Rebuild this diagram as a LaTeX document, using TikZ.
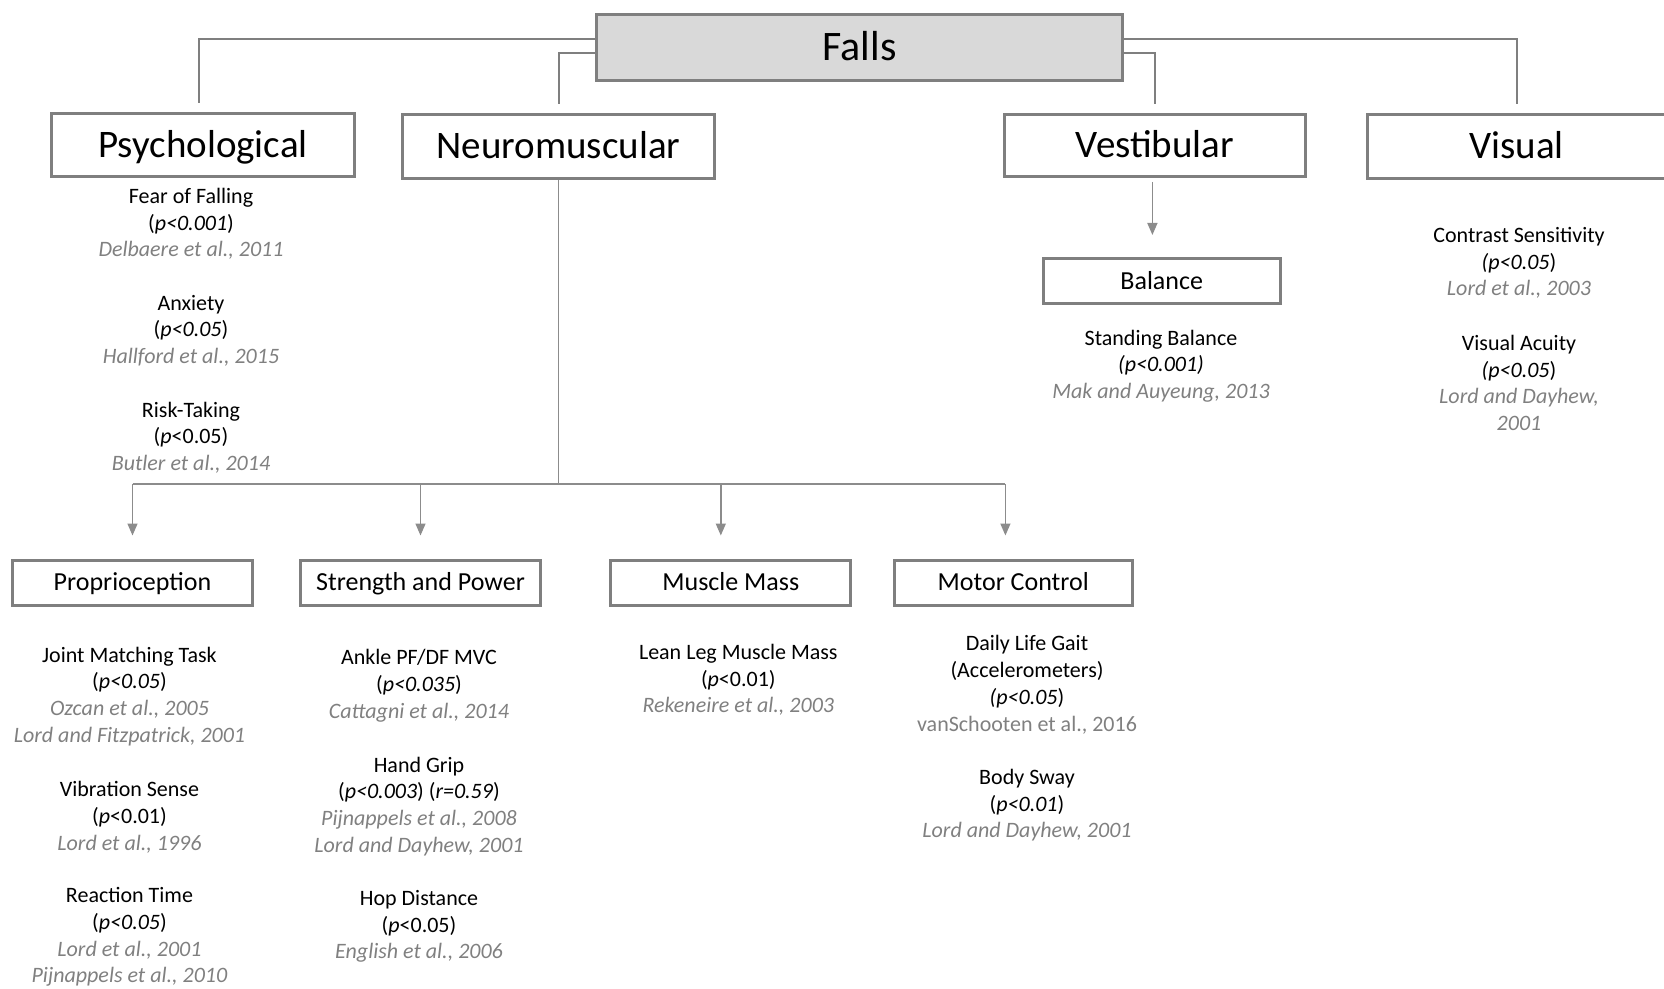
\documentclass[tikz,border=0pt]{standalone}
\usepackage{fontspec}
\setmainfont{Carlito}
\usetikzlibrary{arrows.meta}

\definecolor{boxgray}{RGB}{127,127,127}
\definecolor{fallsgray}{RGB}{217,217,217}
\definecolor{linegray}{RGB}{127,127,127}
\definecolor{thingray}{RGB}{140,140,140}
\definecolor{citegray}{RGB}{128,128,128}
\newcommand{\srcref}[1]{\textcolor{citegray}{\textit{#1}}}

\tikzset{
  mainbox/.style={draw=boxgray, line width=1.5pt, fill=white, inner sep=0pt,
    text height=12.5pt, text depth=0pt,
    minimum height=32pt, font=\fontsize{19.5}{23}\selectfont},
  subbox/.style={draw=boxgray, line width=1.5pt, inner sep=0pt,
    text height=8.4pt, text depth=0pt,
    minimum width=120pt, minimum height=22.5pt, font=\fontsize{13}{16}\selectfont},
  item/.style={align=center, inner sep=0pt, font=\fontsize{11}{13.35}\selectfont},
  link/.style={draw=linegray, line width=1pt, shorten >=4.5pt},
  nmline/.style={draw=thingray, line width=0.7pt},
  nmarrow/.style={nmline, -{Triangle[length=6pt,width=5pt]}, shorten >=11.5pt}
}

\begin{document}
\begin{tikzpicture}[x=0.5pt,y=-0.5pt]
   \useasboundingbox (0,0) rectangle (1664,989);

   %% Kopf
   \node[mainbox, fill=fallsgray, minimum width=263pt, minimum height=33pt,
     text height=13.5pt, font=\fontsize{21}{25}\selectfont] (falls) at (859.5,47.5) {Falls};

   %% Ebene 1
   \node[mainbox, minimum width=151.5pt, minimum height=31.5pt] (psych) at (203,145) {Psychological};
   \node[mainbox, minimum width=156pt] (neuro) at (558.5,146.5) {Neuromuscular};
   \node[mainbox, minimum width=150.5pt, minimum height=31pt] (vest) at (1155,145.5) {Vestibular};
   \node[mainbox, minimum width=149pt] (visual) at (1516.6,146.5) {Visual};

   \draw[link] ([yshift=4.25pt]falls.west) -| ([xshift=-2.25pt]psych.north);
   \draw[link] ([yshift=-2.9pt]falls.west) -| (neuro.north);
   \draw[link] ([yshift=-2.9pt]falls.east) -| (vest.north);
   \draw[link] ([yshift=4.25pt]falls.east) -| (visual.north);

   %% Psychological
   \node[item] (fear) at (191,223.8) {Fear of Falling\\(\textit{p<0.001})\\\srcref{Delbaere et al., 2011}};
   \node[item] (anxiety) at (191,330.7) {Anxiety\\(\textit{p<0.05})\\\srcref{Hallford et al., 2015}};
   \node[item] (risk) at (191,437.7) {Risk-Taking\\(\textit{p}<0.05)\\\srcref{Butler et al., 2014}};

   %% Vestibular
   \node[subbox, minimum width=118.5pt] (balance) at (1161.7,281) {Balance};
   \draw[nmline, -{Triangle[length=6pt,width=5pt]}, shorten <=2pt, shorten >=11pt]
     ([xshift=-1.3pt]vest.south) -- ([xshift=-1.3pt]vest.south |- balance.north);
   \node[item] (standing) at (1161,366) {Standing Balance\\\textit{(p<0.001)}\\\srcref{Mak and Auyeung, 2013}};

   %% Visual
   \node[item] (contrast) at (1519,263.1) {Contrast Sensitivity\\\textit{(p<0.05})\\\srcref{Lord et al., 2003}};
   \node[item] (acuity) at (1519,383) {Visual Acuity\\\textit{(p<0.05})\\\srcref{Lord and Dayhew,}\\\srcref{2001}};

   %% Ebene 2
   \node[subbox] (proprio) at (132.5,582.5) {Proprioception};
   \node[subbox] (strength) at (420.5,582.5) {Strength and Power};
   \node[subbox] (mass) at (730.8,582.5) {Muscle Mass};
   \node[subbox, minimum width=119pt] (motor) at (1013.2,582.5) {Motor Control};

   \coordinate (busL) at (132.5,484);
   \coordinate (busR) at (1005.4,484);
   \draw[nmline] (neuro.south) -- (neuro.south |- busL);
   \draw[nmline] (busL) -- (busR);
   \draw[nmarrow] (busL) -- (proprio.north);
   \draw[nmarrow] (strength.north |- busL) -- (strength.north);
   \draw[nmarrow] ([xshift=-5pt]mass.north |- busL) -- ([xshift=-5pt]mass.north);
   \draw[nmarrow] (busR) -- (busR |- motor.north);

   %% Proprioception
   \node[item] (joint) at (129.5,696.3) {Joint Matching Task\\(\textit{p<0.05})\\\srcref{Ozcan et al., 2005}\\\srcref{Lord and Fitzpatrick, 2001}};
   \node[item] (vibration) at (129.5,817.2) {Vibration Sense\\(\textit{p}<0.01)\\\srcref{Lord et al., 1996}};
   \node[item] (reaction) at (129.5,937) {Reaction Time\\(\textit{p<0.05})\\\srcref{Lord et al., 2001}\\\srcref{Pijnappels et al., 2010}};

   %% Strength and Power
   \node[item] (ankle) at (419,685.9) {Ankle PF/DF MVC\\(\textit{p<0.035})\\\srcref{Cattagni et al., 2014}};
   \node[item] (grip) at (419,806.4) {Hand Grip\\(\textit{p<0.003}) (\textit{r=0.59})\\\srcref{Pijnappels et al., 2008}\\\srcref{Lord and Dayhew, 2001}};
   \node[item] (hop) at (419,926.5) {Hop Distance\\(\textit{p}<0.05)\\\srcref{English et al., 2006}};

   %% Muscle Mass
   \node[item] (leanleg) at (738.3,680) {Lean Leg Muscle Mass\\(\textit{p}<0.01)\\\srcref{Rekeneire et al., 2003}};

   %% Motor Control
   \node[item] (gait) at (1027,684.8) {Daily Life Gait\\(Accelerometers)\\\textit{(p<0.05})\\\textcolor{citegray}{vanSchooten et al., 2016}};
   \node[item] (sway) at (1027,805.3) {Body Sway\\(\textit{p<0.01})\\\srcref{Lord and Dayhew, 2001}};
\end{tikzpicture}
\end{document}
